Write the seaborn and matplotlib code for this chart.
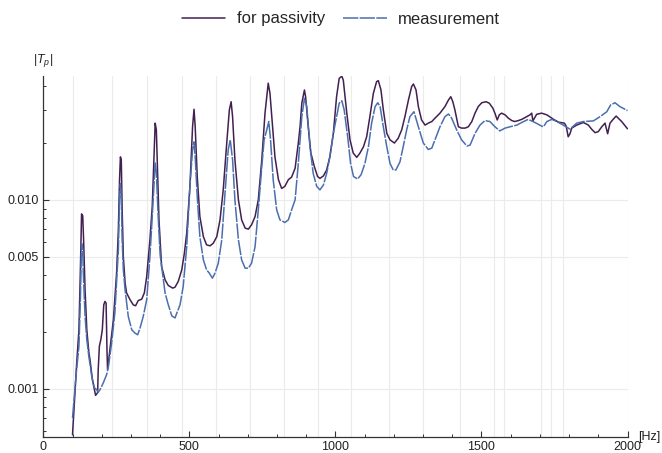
import matplotlib
matplotlib.use("Agg")
import matplotlib.pyplot as plt
from matplotlib.ticker import FixedLocator, NullFormatter
import pandas as pd
import seaborn as sns

# |T_p| magnitude curves over frequency
freq_passivity = [
    100, 114, 122, 127, 131, 135, 138, 143, 149, 156, 160, 168, 175, 179, 186, 188,
    192, 197, 202, 207, 211, 215, 218, 220, 228, 240, 251, 257, 261, 264, 267, 270,
    274, 280, 285, 297, 308, 316, 325, 337, 346, 354, 365, 373, 381, 383, 387, 391,
    396, 405, 417, 428, 443, 451, 462, 474, 483, 491, 502, 511, 516, 520, 527, 536,
    548, 559, 571, 582, 594, 605, 616, 628, 637, 643, 648, 656, 668, 679, 691, 702,
    713, 725, 736, 748, 759, 770, 776, 785, 793, 805, 816, 827, 839, 850, 862, 873,
    879, 885, 894, 898, 907, 916, 928, 939, 947, 959, 970, 981, 993, 1004, 1013, 1022,
    1027, 1039, 1050, 1061, 1073, 1084, 1096, 1107, 1118, 1130, 1141, 1147, 1156, 1164,
    1176, 1187, 1202, 1215, 1227, 1238, 1250, 1261, 1267, 1276, 1284, 1295, 1307, 1318,
    1330, 1341, 1358, 1375, 1387, 1395, 1402, 1409, 1421, 1432, 1444, 1455, 1467, 1478,
    1489, 1501, 1516, 1527, 1539, 1546, 1554, 1561, 1569, 1581, 1592, 1604, 1614, 1626,
    1638, 1655, 1666, 1672, 1676, 1689, 1706, 1724, 1747, 1764, 1784, 1790, 1797, 1803,
    1809, 1826, 1849, 1866, 1877, 1889, 1900, 1912, 1923, 1932, 1940, 1949, 1961, 1980,
    2000,
]
t_passivity = [
    0.00057, 0.00134, 0.00205, 0.00426, 0.00843, 0.00823, 0.00614, 0.00334, 0.00205,
    0.00155, 0.00142, 0.00112, 0.000988, 0.000922, 0.000953, 0.00126, 0.00168, 0.00182,
    0.00205, 0.00278, 0.0029, 0.00284, 0.00161, 0.00126, 0.00161, 0.00232, 0.00411,
    0.00694, 0.0128, 0.0169, 0.0163, 0.00885, 0.00501, 0.00364, 0.00322, 0.00296,
    0.00278, 0.00275, 0.00293, 0.00298, 0.00322, 0.00393, 0.00614, 0.00922, 0.0208,
    0.0255, 0.0235, 0.0144, 0.00784, 0.00444, 0.00377, 0.00352, 0.00341, 0.00345,
    0.0037, 0.00426, 0.00522, 0.00667, 0.0118, 0.0244, 0.0302, 0.0244, 0.0133, 0.00816,
    0.00639, 0.00578, 0.00571, 0.0059, 0.00639, 0.00784, 0.0113, 0.02, 0.03, 0.0331,
    0.0276, 0.0163, 0.01, 0.00784, 0.00709, 0.007, 0.00738, 0.00816, 0.01, 0.0163,
    0.0288, 0.0415, 0.0367, 0.0244, 0.0169, 0.0128, 0.0115, 0.0118, 0.0128, 0.0132,
    0.0147, 0.02, 0.0244, 0.0325, 0.0382, 0.0352, 0.0244, 0.0177, 0.015, 0.0133, 0.013,
    0.0134, 0.0144, 0.0169, 0.0225, 0.0352, 0.044, 0.0452, 0.0431, 0.0288, 0.0208,
    0.0177, 0.0168, 0.0177, 0.0191, 0.0216, 0.0276, 0.0367, 0.0423, 0.0428, 0.0382,
    0.03, 0.0225, 0.0208, 0.02, 0.0212, 0.0235, 0.0276, 0.0338, 0.0398, 0.0411, 0.0382,
    0.0312, 0.0265, 0.0249, 0.0255, 0.026, 0.0271, 0.0288, 0.0312, 0.0338, 0.0352,
    0.0331, 0.03, 0.0244, 0.024, 0.024, 0.0244, 0.026, 0.0288, 0.0312, 0.0327, 0.0331,
    0.0325, 0.0306, 0.0288, 0.0265, 0.0282, 0.0288, 0.0282, 0.0271, 0.0263, 0.026,
    0.0263, 0.0267, 0.0276, 0.0282, 0.0288, 0.0262, 0.0284, 0.0288, 0.0282, 0.0267,
    0.0258, 0.0255, 0.0246, 0.0216, 0.0224, 0.024, 0.0249, 0.0257, 0.0249, 0.0237,
    0.0227, 0.023, 0.0244, 0.0255, 0.0224, 0.0255, 0.0265, 0.0278, 0.026, 0.0238,
]

freq_measurement = [
    100, 114, 122, 127, 131, 135, 137, 143, 149, 156, 166, 175, 183, 188, 194, 205,
    217, 223, 234, 245, 257, 261, 264, 267, 270, 274, 280, 291, 303, 314, 323, 331,
    342, 354, 365, 373, 380, 383, 387, 393, 400, 417, 428, 440, 451, 456, 468, 479,
    491, 502, 511, 516, 520, 527, 536, 548, 559, 568, 579, 588, 599, 611, 622, 633,
    640, 648, 656, 668, 679, 691, 702, 713, 725, 736, 748, 756, 765, 772, 778, 787,
    799, 810, 827, 839, 850, 862, 873, 885, 894, 902, 913, 924, 936, 947, 959, 970,
    981, 993, 1004, 1013, 1022, 1030, 1042, 1052, 1062, 1076, 1088, 1101, 1113, 1124,
    1136, 1145, 1153, 1164, 1176, 1187, 1198, 1207, 1221, 1232, 1244, 1255, 1269, 1284,
    1301, 1318, 1330, 1341, 1358, 1375, 1387, 1398, 1415, 1432, 1450, 1461, 1478, 1495,
    1512, 1529, 1546, 1563, 1581, 1598, 1621, 1638, 1660, 1683, 1706, 1712, 1724, 1741,
    1758, 1780, 1803, 1826, 1849, 1883, 1906, 1929, 1942, 1957, 1974, 2000,
]
t_measurement = [
    0.0007, 0.00126, 0.00168, 0.00296, 0.0059, 0.00544, 0.0041, 0.00241, 0.00182,
    0.00148, 0.00116, 0.00101, 0.000988, 0.000957, 0.000988, 0.00107, 0.00119, 0.00131,
    0.00175, 0.00252, 0.00544, 0.01, 0.0122, 0.0106, 0.00614, 0.00426, 0.00334, 0.00241,
    0.00205, 0.00197, 0.00193, 0.00209, 0.00241, 0.00296, 0.00501, 0.00816, 0.0128,
    0.0157, 0.0141, 0.00833, 0.00512, 0.00321, 0.00278, 0.00243, 0.00237, 0.00249,
    0.00278, 0.00348, 0.00566, 0.0118, 0.0184, 0.0203, 0.0169, 0.0104, 0.00639, 0.00481,
    0.00426, 0.0041, 0.00385, 0.0041, 0.00462, 0.00614, 0.0108, 0.0184, 0.0208, 0.0163,
    0.01, 0.00614, 0.00481, 0.00435, 0.00435, 0.00462, 0.00566, 0.00885, 0.015, 0.0208,
    0.0235, 0.026, 0.0208, 0.0128, 0.00885, 0.00784, 0.00759, 0.00784, 0.00885, 0.01,
    0.0156, 0.0276, 0.0345, 0.0312, 0.0191, 0.0138, 0.0118, 0.0113, 0.012, 0.0138,
    0.0169, 0.0225, 0.0276, 0.0325, 0.0335, 0.03, 0.0216, 0.0156, 0.0133, 0.0129,
    0.0136, 0.0156, 0.0191, 0.0255, 0.0312, 0.0327, 0.0312, 0.0244, 0.0191, 0.0156,
    0.0144, 0.0144, 0.0159, 0.0191, 0.0235, 0.0276, 0.0293, 0.0244, 0.02, 0.0185,
    0.0188, 0.0208, 0.0244, 0.0276, 0.0285, 0.0271, 0.0235, 0.0208, 0.0193, 0.0195,
    0.0225, 0.0249, 0.0263, 0.026, 0.0244, 0.0232, 0.024, 0.0244, 0.0249, 0.0257,
    0.0267, 0.0257, 0.0246, 0.0244, 0.026, 0.0267, 0.026, 0.0249, 0.0237, 0.0255,
    0.026, 0.0262, 0.0276, 0.0293, 0.0318, 0.0327, 0.0312, 0.0297,
]

series_names = ["for passivity", "measurement"]
x_major_ticks = [0, 500, 1000, 1500, 2000]
x_minor_ticks = [f for f in range(100, 2000, 100) if f % 500]
y_major_ticks = [0.001, 0.005, 0.01]
y_major_labels = ["0.001", "0.005", "0.010"]
y_minor_ticks = [0.0006, 0.0007, 0.0008, 0.0009, 0.002, 0.003, 0.004, 0.006,
                 0.007, 0.008, 0.009, 0.02, 0.03, 0.04]
grid_freqs = [100, 234, 356, 476, 592, 709, 824, 940, 1054, 1182, 1301, 1425,
              1544, 1578, 1705, 1737, 1779, 2000]

sns.set_theme(style="ticks")
plt.rcParams["font.family"] = ["Liberation Sans", "DejaVu Sans"]
plt.rcParams["mathtext.fontset"] = "custom"
plt.rcParams["mathtext.rm"] = "Liberation Sans"
plt.rcParams["mathtext.it"] = "Liberation Sans:italic"

df = pd.concat([
    pd.DataFrame({"Hz": freq_passivity, "T": t_passivity, "series": series_names[0]}),
    pd.DataFrame({"Hz": freq_measurement, "T": t_measurement, "series": series_names[1]}),
], ignore_index=True)

palette = {series_names[0]: "#42204f", series_names[1]: "#4b6ead"}
dashes = {series_names[0]: "", series_names[1]: (10, 0.9)}

fig = plt.figure(figsize=(6.62, 4.53), dpi=100)
ax = fig.add_axes([0.0654, 0.036, 0.8825, 0.7962])

# light grid drawn under the curves
for f in grid_freqs:
    ax.axvline(f, color="#ebebeb", lw=0.8, zorder=0)
for v in y_major_ticks:
    ax.axhline(v, color="#ebebeb", lw=0.8, zorder=0)

sns.lineplot(data=df, x="Hz", y="T", hue="series", style="series",
             palette=palette, dashes=dashes, estimator=None, sort=False,
             lw=1.1, ax=ax)

ax.set_yscale("log")
ax.set_xlim(0, 2000)
ax.set_ylim(0.000557, 0.0453)
ax.set_xlabel("")
ax.set_ylabel("")

ax.xaxis.set_major_locator(FixedLocator(x_major_ticks))
ax.xaxis.set_minor_locator(FixedLocator(x_minor_ticks))
ax.set_xticklabels([str(t) for t in x_major_ticks])
ax.yaxis.set_major_locator(FixedLocator(y_major_ticks))
ax.yaxis.set_minor_locator(FixedLocator(y_minor_ticks))
ax.yaxis.set_minor_formatter(NullFormatter())
ax.set_yticklabels(y_major_labels)

ax.tick_params(which="major", direction="in", length=4.5, width=0.8,
               color="#333333", labelsize=9, labelcolor="#222222", pad=3)
ax.tick_params(which="minor", direction="in", length=2.5, width=0.7,
               color="#333333")
for side in ("top", "right"):
    ax.spines[side].set_visible(False)
for side in ("left", "bottom"):
    ax.spines[side].set_linewidth(0.9)
    ax.spines[side].set_color("#333333")

ax.text(1.018, 0.0, "[Hz]", transform=ax.transAxes, fontsize=9,
        color="#222222", ha="left", va="center")
fig.text(43 / 662, 1 - 61 / 453, r"$|T_p|$", fontsize=9, color="#222222",
         ha="center", va="center")

leg = ax.get_legend()
handles = leg.legend_handles
labels = [t.get_text() for t in leg.get_texts()]
leg.remove()
fig.legend(handles, labels, loc="center", bbox_to_anchor=(341 / 662, 1 - 19 / 453),
           ncol=2, frameon=False, fontsize=12, handlelength=2.6,
           columnspacing=1.1, handletextpad=0.7)

fig.savefig("out.png", dpi=100)
